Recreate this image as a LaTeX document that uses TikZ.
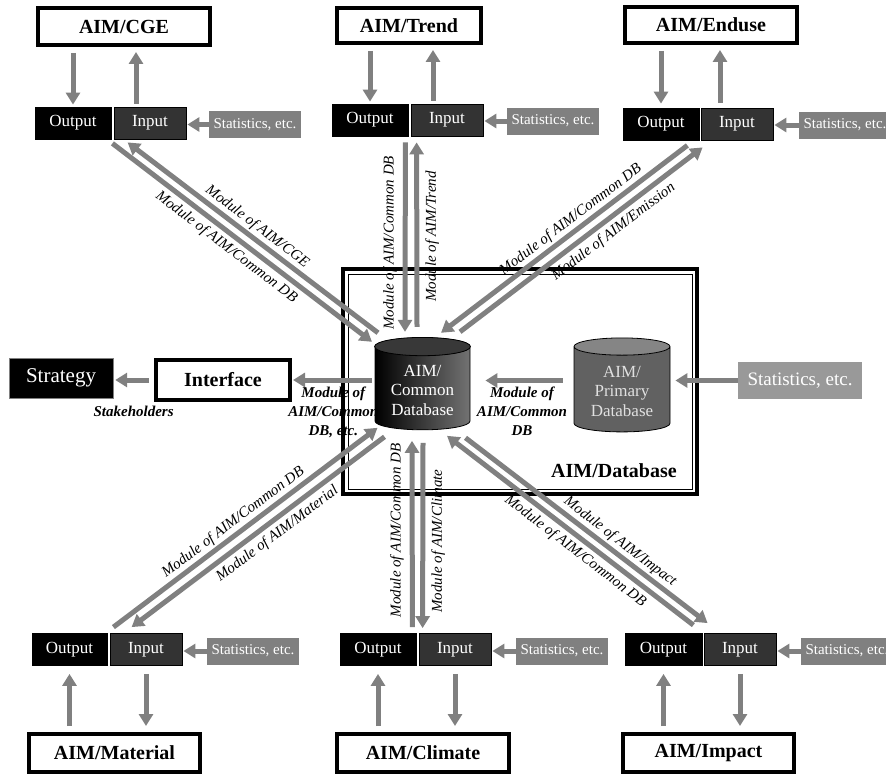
\documentclass[tikz,border=0pt]{standalone}
\usepackage{fontspec}
\setmainfont{Liberation Serif}
\usetikzlibrary{arrows.meta,shapes.geometric,calc}

\begin{document}
\begin{tikzpicture}[x=1pt,y=-1pt,
    flow/.style={draw=gray,line width=5pt,-{Triangle[width=14pt,length=12pt]}},
    lab/.style={font=\itshape\fontsize{15}{19}\selectfont,inner sep=2pt},
    blab/.style={font=\bfseries\itshape\fontsize{15}{19}\selectfont,align=center,inner sep=4pt}]

  \useasboundingbox (0,0) rectangle (886,776);
  \clip (0,0) rectangle (886,776);

  % AIM/Database frame
  \draw[line width=4pt] (343,269) rectangle (697,494);
  \draw[line width=1pt] (348,274) rectangle (692,489);
  \node[font=\bfseries\fontsize{20}{24}\selectfont] (dblabel) at (614,471) {AIM/Database};

  % models
  \begin{scope}[every node/.style={draw,line width=4pt,fill=white,inner sep=0pt,
      font=\bfseries\fontsize{20}{24}\selectfont}]
    \node[minimum width=172pt,minimum height=37pt] (cge)      at (124,26.5)  {AIM/CGE};
    \node[minimum width=144pt,minimum height=35pt] (trend)    at (409,25.5)  {AIM/Trend};
    \node[minimum width=172pt,minimum height=36pt] (enduse)   at (711,25)    {AIM/Enduse};
    \node[minimum width=171pt,minimum height=38pt] (material) at (114.5,753) {AIM/Material};
    \node[minimum width=172pt,minimum height=38pt] (climate)  at (423,753)   {AIM/Climate};
    \node[minimum width=171pt,minimum height=38pt] (impact)   at (708.5,753) {AIM/Impact};
    \node[minimum width=134pt,minimum height=40pt] (interface) at (223,380)  {Interface};
  \end{scope}

  % output / input
  \begin{scope}[every node/.style={draw,line width=0.8pt,text=white,inner sep=0pt,
      minimum height=32pt,font=\fontsize{17}{20}\selectfont}]
    \node[fill=black,minimum width=76pt]    (outcge)    at (73,123)    {Output};
    \node[fill=black!80,minimum width=72pt] (incge)     at (150,123)   {Input};
    \node[fill=black,minimum width=76pt]    (outtrend)  at (370,120)   {Output};
    \node[fill=black!80,minimum width=72pt] (intrend)   at (447,120)   {Input};
    \node[fill=black,minimum width=76pt]    (outenduse) at (661,124)   {Output};
    \node[fill=black!80,minimum width=72pt] (inenduse)  at (737,124)   {Input};
    \node[fill=black,minimum width=75pt]    (outmat)    at (69.5,649.5) {Output};
    \node[fill=black!80,minimum width=72pt] (inmat)     at (146,649.5)  {Input};
    \node[fill=black,minimum width=76pt]    (outclim)   at (378,649.5)  {Output};
    \node[fill=black!80,minimum width=72pt] (inclim)    at (455,649.5)  {Input};
    \node[fill=black,minimum width=77pt]    (outimp)    at (663.5,649.5) {Output};
    \node[fill=black!80,minimum width=72pt] (inimp)     at (740,649.5)  {Input};
  \end{scope}

  % statistics
  \begin{scope}[every node/.style={fill=gray,text=white,inner sep=0pt,
      minimum width=92pt,minimum height=27pt,font=\fontsize{15}{18}\selectfont}]
    \node (stcge)    at (255,124.5) {Statistics, etc.};
    \node (sttrend)  at (553,121)   {Statistics, etc.};
    \node (stenduse) at (845,125)   {Statistics, etc.};
    \node (stmat)    at (253,651)   {Statistics, etc.};
    \node (stclim)   at (562,651)   {Statistics, etc.};
    \node (stimp)    at (847,651)   {Statistics, etc.};
  \end{scope}

  \node[fill=black!40,text=white,inner sep=0pt,minimum width=124pt,minimum height=37pt,
    font=\fontsize{19}{22}\selectfont] (bigstats) at (800,380.5) {Statistics, etc.};
  \node[fill=black,draw=gray,text=white,inner sep=0pt,minimum width=104pt,minimum height=40pt,
    font=\fontsize{21}{24}\selectfont] (strategy) at (61,378) {Strategy};

  % databases
  \node[cylinder,shape border rotate=90,aspect=0.25,draw,line width=0.8pt,
    minimum width=95pt,minimum height=92pt,left color=black,right color=black!55,
    text=white,align=center,font=\fontsize{17}{19.5}\selectfont] (cdb) at (422.5,390)
    {AIM/\\Common\\Database};
  \draw[line width=0.8pt,fill=black!78] let \p1=(cdb.before top), \p2=(cdb.after top), \p3=(cdb.top) in
    ($(\p1)!0.5!(\p2)$) ellipse [x radius={0.5*veclen(\x2-\x1,\y2-\y1)}, y radius={abs(\y3-\y1)}];
  \node[cylinder,shape border rotate=90,aspect=0.25,draw,line width=0.8pt,
    cylinder uses custom fill,cylinder body fill=black!62,cylinder end fill=black!48,
    minimum width=96pt,minimum height=94pt,text=white!88!black,align=center,
    font=\fontsize{17}{19.5}\selectfont] (pdb) at (622,391) {AIM/\\Primary\\Database};

  % model <-> output/input
  \draw[flow,shorten <=6pt,shorten >=2pt] (cge.south -| outcge.north) -- (outcge.north);
  \draw[flow,shorten <=3pt,shorten >=5pt] ($(incge.north)+(-14,0)$) -- ($(cge.south -| incge.north)+(-14,0)$);
  \draw[flow,shorten <=6pt,shorten >=2pt] (trend.south -| outtrend.north) -- (outtrend.north);
  \draw[flow,shorten <=3pt,shorten >=5pt] ($(intrend.north)+(-14,0)$) -- ($(trend.south -| intrend.north)+(-14,0)$);
  \draw[flow,shorten <=6pt,shorten >=4pt] (enduse.south -| outenduse.north) -- (outenduse.north);
  \draw[flow,shorten <=5pt,shorten >=5pt] ($(inenduse.north)+(-17,0)$) -- ($(enduse.south -| inenduse.north)+(-17,0)$);
  \draw[flow,shorten <=6pt,shorten >=8pt] (material.north -| outmat.south) -- (outmat.south);
  \draw[flow,shorten <=8pt,shorten >=6pt] (inmat.south) -- (inmat.south |- material.north);
  \draw[flow,shorten <=6pt,shorten >=8pt] (climate.north -| outclim.south) -- (outclim.south);
  \draw[flow,shorten <=8pt,shorten >=6pt] (inclim.south) -- (inclim.south |- climate.north);
  \draw[flow,shorten <=6pt,shorten >=8pt] (impact.north -| outimp.south) -- (outimp.south);
  \draw[flow,shorten <=8pt,shorten >=6pt] (inimp.south) -- (inimp.south |- impact.north);

  % statistics -> input
  \draw[flow,shorten >=1pt] (stcge.west) -- (stcge.west -| incge.east);
  \draw[flow,shorten >=1pt] (sttrend.west) -- (sttrend.west -| intrend.east);
  \draw[flow,shorten >=1pt] (stenduse.west) -- (stenduse.west -| inenduse.east);
  \draw[flow,shorten >=1pt] (stmat.west) -- (stmat.west -| inmat.east);
  \draw[flow,shorten >=1pt] (stclim.west) -- (stclim.west -| inclim.east);
  \draw[flow,shorten >=1pt] (stimp.west) -- (stimp.west -| inimp.east);

  % CGE
  \draw[flow] ([shift={(1,4)}]outcge.south east) -- ([shift={(-50.5,-42)}]cdb.shape center)
    node[lab,pos=0.47,sloped,below,inner sep=4pt] {Module of AIM/Common DB};
  \draw[flow] ([shift={(-44.5,-51)}]cdb.shape center) -- ([shift={(14,3)}]incge.south west)
    node[lab,pos=0.51,sloped,above] {Module of AIM/CGE};
  % Trend
  \draw[flow] ([shift={(-3,6)}]outtrend.south east) -- ([shift={(-17.5,-52)}]cdb.shape center)
    node[lab,pos=0.53,rotate=90,anchor=south,inner sep=6pt] {Module of AIM/Common DB};
  \draw[flow] ([shift={(-5.5,-57)}]cdb.shape center) -- ([shift={(6,6)}]intrend.south west)
    node[lab,pos=0.49,rotate=90,anchor=north,inner sep=6pt] {Module of AIM/Trend};
  % Enduse
  \draw[flow] ([shift={(-12,5)}]outenduse.south east) -- ([shift={(18.5,-51)}]cdb.shape center)
    node[lab,pos=0.445,sloped,above] {Module of AIM/Common DB};
  \draw[flow] ([shift={(37.5,-52)}]cdb.shape center) -- ([shift={(2,7)}]inenduse.south west)
    node[lab,pos=0.6,sloped,below,inner sep=4pt] {Module of AIM/Emission};
  % Material
  \draw[flow] ([shift={(6,-6)}]outmat.north east) -- ([shift={(-45,44)}]cdb.shape center)
    node[lab,pos=0.48,sloped,above] {Module of AIM/Common DB};
  \draw[flow] ([shift={(-38,53)}]cdb.shape center) -- ([shift={(22,-6)}]inmat.north west)
    node[lab,pos=0.455,sloped,below,inner sep=4pt] {Module of AIM/Material};
  % Climate
  \draw[flow] ([shift={(-4,-6)}]outclim.north east) -- ([shift={(-10.5,57)}]cdb.shape center)
    node[lab,pos=0.52,rotate=90,anchor=south,inner sep=6pt] {Module of AIM/Common DB};
  \draw[flow] ([shift={(0.5,59)}]cdb.shape center) -- ([shift={(4,-5)}]inclim.north west)
    node[lab,pos=0.53,rotate=90,anchor=north,inner sep=6pt] {Module of AIM/Climate};
  % Impact
  \draw[flow] ([shift={(-9,-8)}]outimp.north east) -- ([shift={(24.5,52)}]cdb.shape center)
    node[lab,pos=0.446,sloped,below,inner sep=4pt] {Module of AIM/Common DB};
  \draw[flow] ([shift={(43,54)}]cdb.shape center) -- ([shift={(4,-10)}]inimp.north west)
    node[lab,pos=0.61,sloped,above] {Module of AIM/Impact};

  % horizontal flows
  \draw[flow,shorten >=5pt] (bigstats.west) -- (bigstats.west -| pdb.east);
  \draw[flow,shorten <=11pt,shorten >=15pt] (pdb.west |- bigstats.west) -- (cdb.east |- bigstats.west)
    node[blab,midway,below] {Module of\\AIM/Common\\DB};
  \draw[flow,shorten <=3pt,shorten >=1pt] (cdb.west |- interface.east) -- (interface.east)
    node[blab,midway,below] {Module of\\AIM/Common\\DB, etc.};
  \draw[flow,shorten <=5pt,shorten >=2pt] (interface.west) -- (strategy.east |- interface.west)
    node[blab,midway,below=20pt] {Stakeholders};

\end{tikzpicture}
\end{document}
